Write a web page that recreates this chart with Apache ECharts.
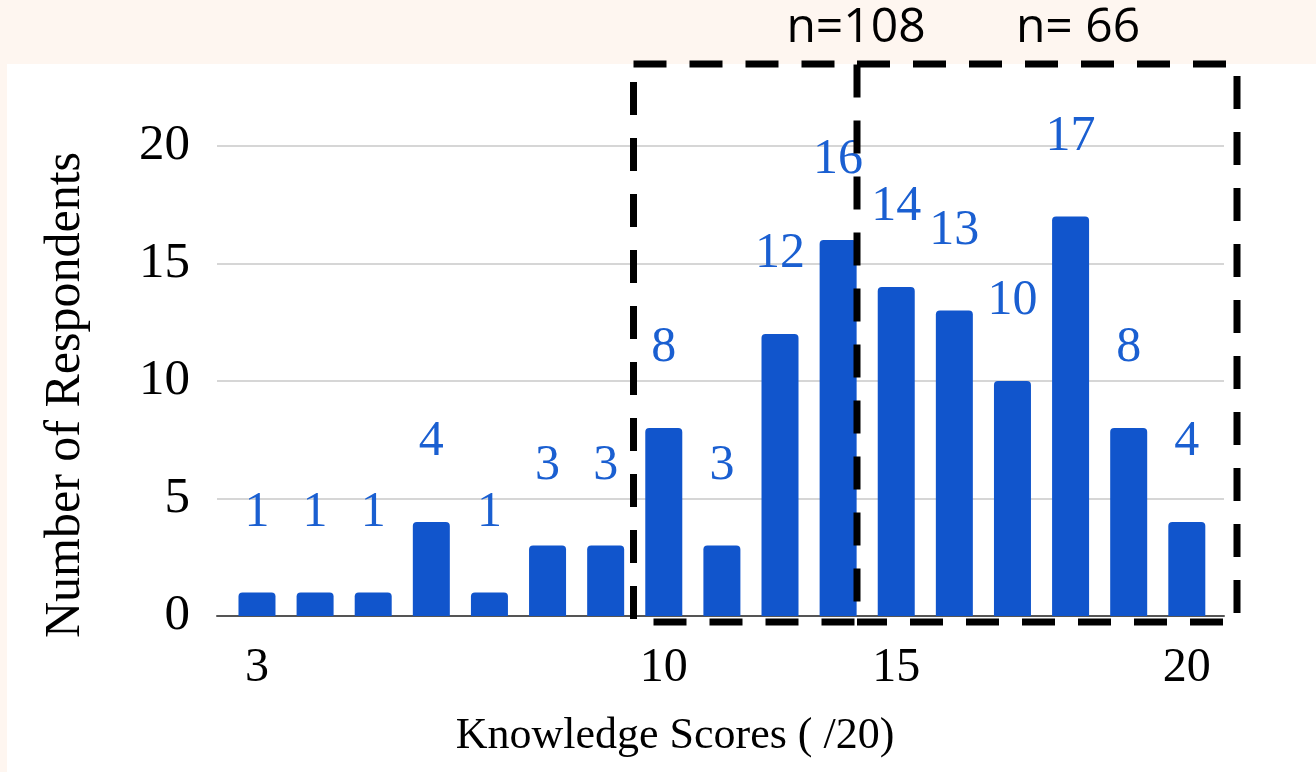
<!DOCTYPE html>
<html>
<head>
<meta charset="utf-8">
<script src="https://cdn.jsdelivr.net/npm/echarts@6/dist/echarts.min.js"></script>
<style>
  html, body { margin: 0; padding: 0; width: 1316px; height: 772px; background: #fef6f0; overflow: hidden; }
  #panel { position: absolute; left: 7px; top: 64px; width: 1309px; height: 708px; background: #ffffff; }
  #chart { position: absolute; left: 0; top: 0; width: 1316px; height: 772px; }
</style>
</head>
<body>
<div id="panel"></div>
<div id="chart"></div>
<script>
// Number of respondents per bar (left to right)
const counts = [1, 1, 1, 4, 1, 3, 3, 8, 3, 12, 16, 14, 13, 10, 17, 8, 4];
// Tick labels on the x axis and the bar index they sit under
const tickIndex = [0, 7, 11, 16];
const tickText = ['3', '10', '15', '20'];
// Y axis ticks
const yTicks = [0, 5, 10, 15, 20];
// Annotations
const groupLabels = ['n=108', 'n= 66'];
const xTitle = 'Knowledge Scores ( /20)';
const yTitle = 'Number of Respondents';

const serif = '"Liberation Serif", "DejaVu Serif", serif';
const chart = echarts.init(document.getElementById('chart'));

const option = {
  backgroundColor: 'transparent',
  animation: false,
  grid: { left: 217, right: 92, top: 146, bottom: 156, containLabel: false },
  xAxis: {
    type: 'value',
    min: -0.688,
    max: 16.64,
    splitLine: { show: false },
    axisTick: { show: false },
    axisLine: { show: true, onZero: true, lineStyle: { color: '#555555', width: 2 } },
    axisLabel: {
      customValues: tickIndex,
      formatter: function (v) {
        const k = tickIndex.indexOf(Math.round(v));
        return k >= 0 ? tickText[k] : '';
      },
      fontFamily: serif,
      fontSize: 48,
      color: '#000000',
      margin: 28
    }
  },
  yAxis: {
    type: 'value',
    min: yTicks[0],
    max: yTicks[yTicks.length - 1],
    interval: 5,
    axisLine: { show: false },
    axisTick: { show: false },
    splitLine: { show: true, lineStyle: { color: '#d6d6d6', width: 2 } },
    axisLabel: { fontFamily: serif, fontSize: 51, color: '#000000', margin: 27 }
  },
  series: [{
    type: 'bar',
    data: counts.map((v, i) => [i, v]),
    barWidth: 37,
    itemStyle: { color: '#1155cc', borderRadius: [4, 4, 0, 0] },
    label: {
      show: true,
      position: 'top',
      distance: 55,
      fontFamily: serif,
      fontSize: 50,
      color: '#1a5fd1',
      formatter: p => String(p.value[1])
    },
    z: 3
  }],
  graphic: [
    {
      type: 'text', z: 50,
      x: 66, y: 395, rotation: Math.PI / 2,
      style: { text: yTitle, font: '50px ' + serif, fill: '#000000', align: 'center', verticalAlign: 'middle' }
    },
    {
      type: 'text', z: 50,
      x: 675, y: 736,
      style: { text: xTitle, font: '44px ' + serif, fill: '#000000', align: 'center', verticalAlign: 'middle' }
    },
    {
      type: 'text', z: 50,
      x: 856, y: 28,
      style: { text: groupLabels[0], font: '48px "Open Sans", "Noto Sans", sans-serif', fill: '#000000', align: 'center', verticalAlign: 'middle' }
    },
    {
      type: 'text', z: 50,
      x: 1078, y: 28,
      style: { text: groupLabels[1], font: '48px "Open Sans", "Noto Sans", sans-serif', fill: '#000000', align: 'center', verticalAlign: 'middle' }
    },
    {
      type: 'polyline', z: 100,
      shape: { points: [[633.5, 64], [857, 64], [857, 622], [633.5, 622], [633.5, 64]] },
      style: { stroke: '#000000', lineWidth: 7, lineDash: [33, 23], fill: null }
    },
    {
      type: 'polyline', z: 100,
      shape: { points: [[857, 64], [1237, 64], [1237, 622], [857, 622]] },
      style: { stroke: '#000000', lineWidth: 7, lineDash: [33, 23], fill: null }
    }
  ]
};
chart.setOption(option);
</script>
</body>
</html>
